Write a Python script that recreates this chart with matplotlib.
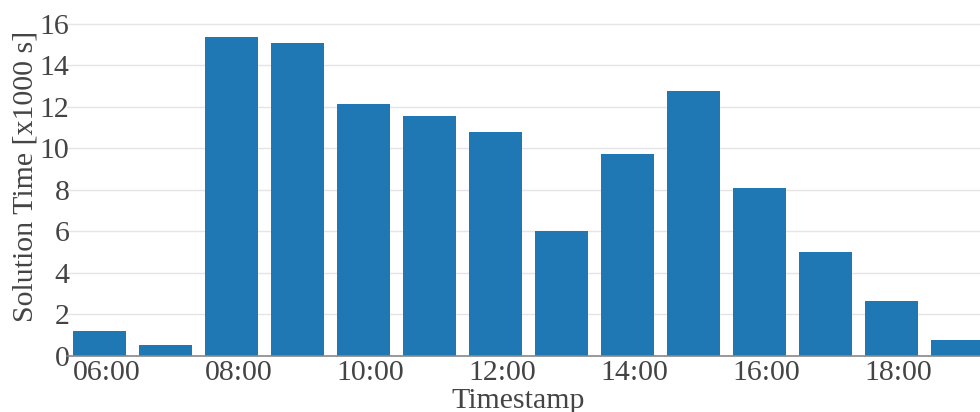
import matplotlib
matplotlib.use("Agg")
import matplotlib.pyplot as plt
from matplotlib.transforms import ScaledTranslation

hours = ["06:00", "07:00", "08:00", "09:00", "10:00", "11:00", "12:00",
         "13:00", "14:00", "15:00", "16:00", "17:00", "18:00", "19:00"]
solution_time_k = [1.18, 0.51, 15.37, 15.08, 12.13, 11.55, 10.79,
                   6.0, 9.72, 12.76, 8.07, 4.99, 2.63, 0.75]
y_ticks = [0, 2, 4, 6, 8, 10, 12, 14, 16]

plt.rcParams["font.family"] = ["Liberation Serif", "DejaVu Serif"]
text_color = "#444444"
fs = 21.5

W, H = 980, 412
fig = plt.figure(figsize=(W / 100, H / 100), dpi=100)
left, right, bottom, top = 66.5, 980, 355.5, 19.8
ax = fig.add_axes([left / W, (H - bottom) / H, (right - left) / W, (bottom - top) / H])

x = list(range(len(hours)))
ax.bar(x, solution_time_k, width=0.8, color="#1f77b4", zorder=3)

ax.set_xlim(-0.5, 13.34)
ax.set_ylim(0, 16.2)

ax.set_yticks(y_ticks)
ax.set_yticklabels([str(v) for v in y_ticks])
ax.set_xticks(x[::2])
ax.set_xticklabels(hours[::2])

ax.grid(axis="y", color="#e5e5e5", linewidth=1.0, zorder=0)
ax.set_axisbelow(True)
for s in ["top", "right", "left"]:
    ax.spines[s].set_visible(False)
ax.spines["bottom"].set_color("#888888")
ax.spines["bottom"].set_linewidth(1.2)
ax.spines["bottom"].set_zorder(4)

ax.tick_params(axis="both", length=0, labelsize=fs, labelcolor=text_color)
ax.tick_params(axis="x", pad=3.5)
ax.tick_params(axis="y", pad=-2)

# hour labels sit slightly right of the bar centres
shift = ScaledTranslation(7 / 100, 0, fig.dpi_scale_trans)
for lbl in ax.get_xticklabels():
    lbl.set_transform(lbl.get_transform() + shift)

ax.set_xlabel("Timestamp", fontsize=fs, color=text_color)
ax.xaxis.set_label_coords(0.494, -0.097)
ax.set_ylabel("Solution Time [x1000 s]", fontsize=fs, color=text_color)
ax.yaxis.set_label_coords(-0.031, 0.535)

fig.savefig("out.png", dpi=100)
